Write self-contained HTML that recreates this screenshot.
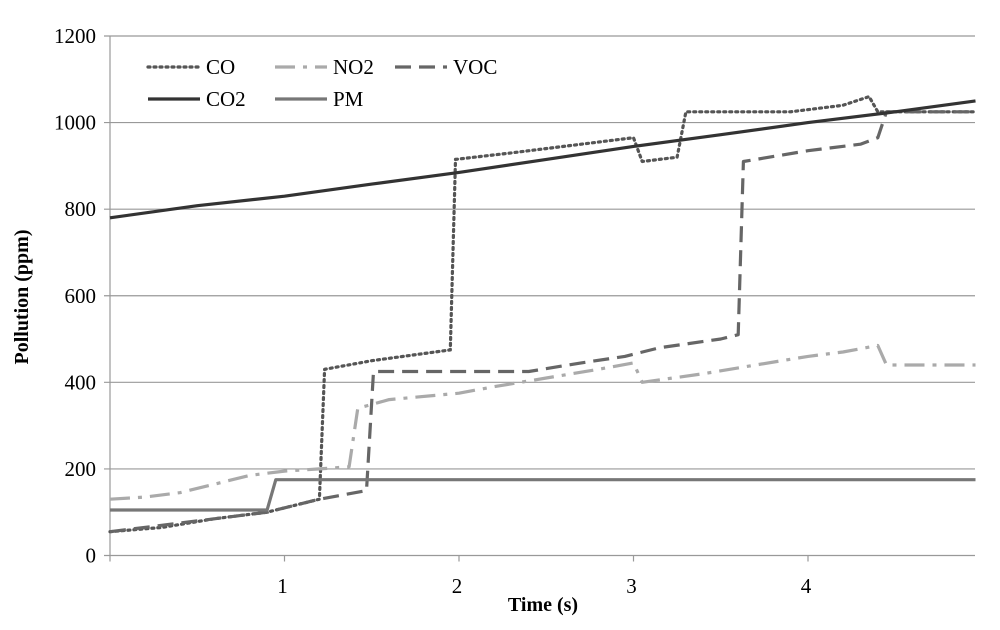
<!DOCTYPE html>
<html><head><meta charset="utf-8"><style>
body{margin:0;background:#fff}
svg{display:block;font-family:"Liberation Serif",serif}
</style></head><body>
<svg id="chart" width="1000" height="630">
<g id="grid"></g>
<g id="axes"></g>
<g id="series"></g>
<g id="legend"></g>
<text x="0" y="0" transform="translate(28,297) rotate(-90)" text-anchor="middle" font-size="20" font-weight="bold">Pollution (ppm)</text>
<text x="543" y="611" text-anchor="middle" font-size="20" font-weight="bold">Time (s)</text>
</svg>
<script>
const yTicks=[0,200,400,600,800,1000,1200];
const xTicks=[1,2,3,4];
const coX=[0,0.3,0.6,0.9,1.2,1.23,1.5,1.95,1.98,2.3,2.7,3.0,3.05,3.25,3.3,3.9,4.2,4.35,4.4,4.96];
const coY=[55,65,85,100,130,430,450,475,915,930,950,965,910,920,1025,1025,1040,1060,1025,1025];
const no2X=[0,0.2,0.4,0.6,0.8,1.0,1.2,1.37,1.42,1.6,2.0,2.2,2.5,2.8,3.0,3.05,3.4,3.7,4.0,4.2,4.4,4.45,4.96];
const no2Y=[130,135,145,165,185,195,200,205,340,360,375,390,410,430,445,400,420,440,460,470,485,440,440];
const vocX=[0,0.5,0.9,1.2,1.47,1.51,2.4,2.7,2.95,3.15,3.5,3.6,3.63,4.0,4.3,4.4,4.45,4.96];
const vocY=[55,80,100,130,150,425,425,445,460,480,500,510,910,935,950,965,1025,1025];
const co2X=[0,0.5,1.0,1.5,2.0,2.5,3.0,3.5,4.0,4.5,4.96];
const co2Y=[780,808,830,858,885,915,945,972,1000,1025,1050];
const pmX=[0,0.9,0.95,4.96];
const pmY=[105,105,175,175];
const NS="http://www.w3.org/2000/svg";
const X0=110,XU=174.5,Y0=555.5,YU=519.5/1200,XR=975;
const sx=v=>X0+v*XU, sy=v=>Y0-v*YU;
function mk(tag,attrs,parent){const e=document.createElementNS(NS,tag);for(const k in attrs)e.setAttribute(k,attrs[k]);parent.appendChild(e);return e;}
const grid=document.getElementById('grid'),axes=document.getElementById('axes'),ser=document.getElementById('series'),leg=document.getElementById('legend');
yTicks.forEach(t=>{
 const l=mk('line',{x1:X0-6,x2:XR,y1:sy(t),y2:sy(t),stroke:'#999','stroke-width':1.2},grid);
 
 
 const tx=mk('text',{x:96,y:sy(t)+7,'text-anchor':'end','font-size':21},axes);tx.textContent=t;
 
 
});
mk('line',{x1:X0,x2:X0,y1:sy(1200),y2:Y0+6,stroke:'#999','stroke-width':1.2},axes);
xTicks.forEach(t=>{
 const l=mk('line',{x1:sx(t),x2:sx(t),y1:Y0,y2:Y0+6,stroke:'#999','stroke-width':1.2},axes);
 
 
 const tx=mk('text',{x:sx(t)-2,y:593,'text-anchor':'middle','font-size':21},axes);tx.textContent=t;
 
 
});
const defs=[
 {n:'CO',x:coX,y:coY,c:'#555',d:'2 4',cap:'round'},
 {n:'NO2',x:no2X,y:no2Y,c:'#aaa',d:'20 8 4 8',cap:'butt'},
 {n:'VOC',x:vocX,y:vocY,c:'#666',d:'16 8',cap:'butt'},
 {n:'CO2',x:co2X,y:co2Y,c:'#333',d:'none',cap:'butt'},
 {n:'PM',x:pmX,y:pmY,c:'#777',d:'none',cap:'butt'}
];
defs.forEach(s=>{
 const pts=s.x.map((v,i)=>sx(v).toFixed(1)+','+sy(s.y[i]).toFixed(1)).join(' ');
 const p=mk('polyline',{points:pts,fill:'none',stroke:s.c,'stroke-width':3.2,'stroke-dasharray':s.d,'stroke-linecap':s.cap,'stroke-linejoin':'round'},ser);
 
 
});
const lpos=[[148,67],[275,67],[395,67],[148,99],[275,99]];
defs.forEach((s,i)=>{
 const [lx,ly]=lpos[i];
 const g=mk('g',{},leg);
 
 
 mk('line',{x1:lx,x2:lx+52,y1:ly,y2:ly,stroke:s.c,'stroke-width':3.2,'stroke-dasharray':s.d,'stroke-linecap':s.cap},g);
 const t=mk('text',{x:lx+58,y:ly+7,'font-size':21},g);t.textContent=s.n;
});
</script>
</body></html>
